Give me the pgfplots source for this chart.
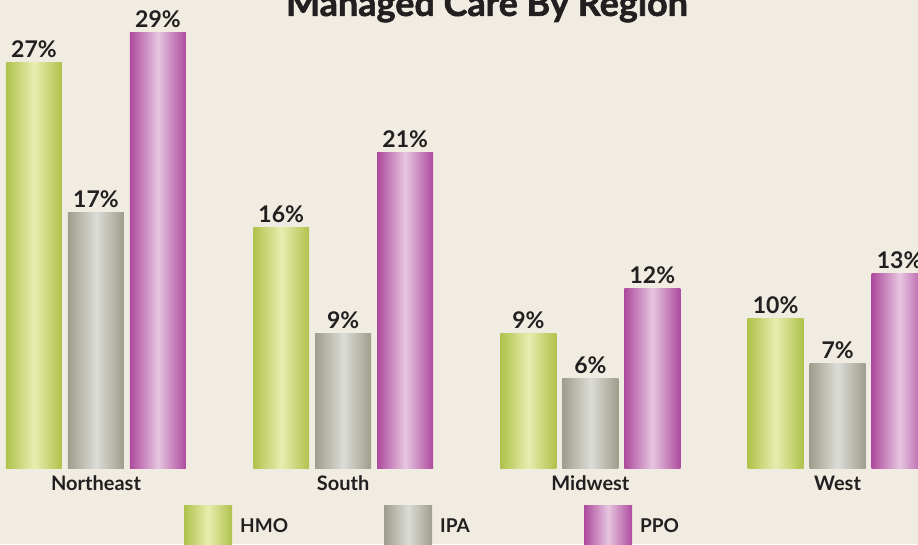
\documentclass[border=0pt]{standalone}
\usepackage{pgfplots}
\pgfplotsset{compat=1.18}
\usepackage{fontspec}
\setmainfont{Lato}
\newfontfamily\titlefont[BoldFeatures={FakeBold=1.6}]{Lato}
\definecolor{bg}{HTML}{F0ECE2}
\definecolor{hmoE}{HTML}{AFC24A}
\definecolor{hmoC}{HTML}{E8EDB0}
\definecolor{ipaE}{HTML}{9E9E8C}
\definecolor{ipaC}{HTML}{DCDCD8}
\definecolor{ppoE}{HTML}{AE4A9E}
\definecolor{ppoC}{HTML}{E6C6E0}
\definecolor{txt}{HTML}{231F20}
\pgfplotsset{
  hmo/.style={draw=none, left color=hmoE, right color=hmoE, middle color=hmoC, bar shift=-62pt},
  ipa/.style={draw=none, left color=ipaE, right color=ipaE, middle color=ipaC, bar shift=0pt},
  ppo/.style={draw=none, left color=ppoE, right color=ppoE, middle color=ppoC, bar shift=62pt},
}
\begin{document}
\begin{tikzpicture}
\useasboundingbox (0,0) rectangle (918pt,544pt);
\fill[bg] (0,0) rectangle (918pt,544pt);
\clip (0,0) rectangle (918pt,544pt);
\begin{axis}[
  at={(0pt,76pt)}, anchor=south west,
  x=247.2pt, y=15pt,
  xmin=-0.3883, xmax=3.3253, ymin=0, ymax=31.2,
  axis line style={draw=none},
  ytick=\empty,
  xtick={0,1,2,3},
  xticklabels={Northeast,South,Midwest,West},
  major tick length=0pt,
  xticklabel style={font=\fontsize{20}{20}\selectfont\bfseries, text=txt, anchor=base, yshift=-22pt},
  ybar, bar width=56pt,
  /pgf/number format/assume math mode=true,
  nodes near coords={\pgfmathprintnumber{\pgfplotspointmeta}\%},
  every node near coord/.append style={font=\fontsize{23}{23}\selectfont\bfseries, text=txt, anchor=base, yshift=5pt, inner sep=0pt},
  title={Managed Care By Region},
  title style={at={(axis description cs:0.5305,0.9531)}, anchor=base, font=\titlefont\fontsize{36}{36}\selectfont\bfseries, text=txt, inner sep=0pt},
  legend columns=3,
  legend style={at={(axis description cs:0.2004,-0.126)}, anchor=west, draw=none, fill=none, inner sep=0pt,
    font=\fontsize{19}{19}\selectfont\bfseries, text=txt,
    nodes={inner sep=0pt, text width=144pt, align=left},
    /tikz/every odd column/.append style={column sep=8pt},
    /tikz/every even column/.append style={column sep=0pt}},
  legend image code/.code={\path[#1,draw=none] (0pt,-22pt) rectangle (48pt,20pt);},
  clip=false,
]
% HMO
\addplot[hmo, forget plot] coordinates {(0,27)};
\addplot[hmo, forget plot] coordinates {(1,16)};
\addplot[hmo, forget plot] coordinates {(2,9)};
\addplot[hmo, forget plot] coordinates {(3,10)};
% IPA
\addplot[ipa, forget plot] coordinates {(0,17)};
\addplot[ipa, forget plot] coordinates {(1,9)};
\addplot[ipa, forget plot] coordinates {(2,6)};
\addplot[ipa, forget plot] coordinates {(3,7)};
% PPO
\addplot[ppo, forget plot] coordinates {(0,29)};
\addplot[ppo, forget plot] coordinates {(1,21)};
\addplot[ppo, forget plot] coordinates {(2,12)};
\addplot[ppo, forget plot] coordinates {(3,13)};
\addlegendimage{hmo}
\addlegendimage{ipa}
\addlegendimage{ppo}
\legend{HMO,IPA,PPO}
\end{axis}
\end{tikzpicture}
\end{document}
